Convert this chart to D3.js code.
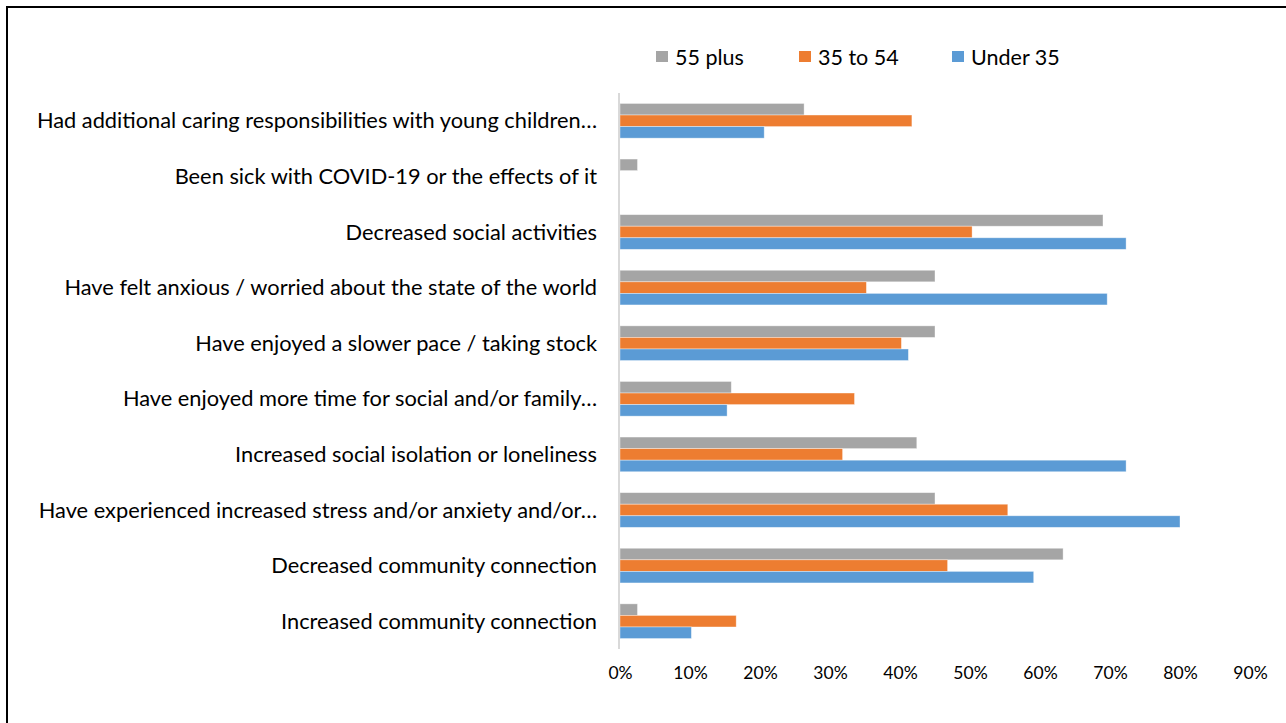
<!DOCTYPE html>
<html>
<head>
<meta charset="utf-8">
<script src="https://cdn.jsdelivr.net/npm/d3@7"></script>
<style>
  body { margin: 0; background: #fff; }
  svg { display: block; font-family: Lato, "Open Sans", sans-serif; }
</style>
</head>
<body>
<svg width="1286" height="723"></svg>
<script>
// Categories, top to bottom
const categories = [
    "Had additional caring responsibilities with young children…",
    "Been sick with COVID-19 or the effects of it",
    "Decreased social activities",
    "Have felt anxious / worried about the state of the world",
    "Have enjoyed a slower pace / taking stock",
    "Have enjoyed more time for social and/or family…",
    "Increased social isolation or loneliness",
    "Have experienced increased stress and/or anxiety and/or…",
    "Decreased community connection",
    "Increased community connection"
];

const seriesNames = ["55 plus", "35 to 54", "Under 35"];
const seriesColors = ["#A5A5A5", "#ED7D31", "#5B9BD5"];

// Values in %, same order as categories
const plus55 = [26.3, 2.5, 69.0, 45.0, 45.0, 15.9, 42.4, 45.0, 63.3, 2.5];
const from35to54 = [41.7, 0, 50.3, 35.2, 40.2, 33.5, 31.8, 55.4, 46.8, 16.6];
const under35 = [20.6, 0, 72.3, 69.6, 41.2, 15.3, 72.3, 80.0, 59.1, 10.2];

const tickValues = [0, 10, 20, 30, 40, 50, 60, 70, 80, 90];

const seriesValues = [plus55, from35to54, under35];

const svg = d3.select("svg");
const margin = { top: 93, left: 620, right: 36, bottom: 74 };
const width = 1286, height = 723;

// outer frame (chart border runs past the picture edge)
svg.append("rect")
    .attr("x", 7).attr("y", 7)
    .attr("width", 1300).attr("height", 740)
    .attr("fill", "none")
    .attr("stroke", "#000")
    .attr("stroke-width", 2);

const x = d3.scaleLinear()
    .domain([0, 90])
    .range([margin.left, width - margin.right]);

const y = d3.scaleBand()
    .domain(categories)
    .range([margin.top, height - margin.bottom])
    .paddingInner(0.376)
    .paddingOuter(0.188);

const ySub = d3.scaleBand()
    .domain(seriesNames)
    .range([0, y.bandwidth()]);

// bars
const groups = svg.append("g")
    .selectAll("g")
    .data(categories)
    .join("g")
    .attr("transform", d => `translate(0,${y(d)})`);

groups.selectAll("rect")
    .data((d, i) => seriesNames.map((s, j) => ({ series: s, value: seriesValues[j][i], color: seriesColors[j] })))
    .join("rect")
    .filter(d => d.value > 0)
    .attr("x", x(0))
    .attr("y", d => ySub(d.series))
    .attr("width", d => x(d.value) - x(0))
    .attr("height", ySub.bandwidth())
    .attr("fill", d => d.color)
    .attr("stroke", "#fff")
    .attr("stroke-opacity", 0.5)
    .attr("stroke-width", 0.75);

// category axis line
svg.append("line")
    .attr("x1", x(0) - 1).attr("x2", x(0) - 1)
    .attr("y1", margin.top).attr("y2", height - margin.bottom)
    .attr("stroke", "#d9d9d9")
    .attr("stroke-width", 2);

// category labels
svg.append("g")
    .selectAll("text")
    .data(categories)
    .join("text")
    .attr("x", 597)
    .attr("y", d => y(d) + y.bandwidth() / 2)
    .attr("dy", "0.35em")
    .attr("text-anchor", "end")
    .attr("font-size", 21.8)
    .attr("fill", "#000")
    .text(d => d);

// value axis labels
const xAxis = d3.axisBottom(x)
    .tickValues(tickValues)
    .tickFormat(d => d + "%")
    .tickSize(0)
    .tickPadding(0);

const xg = svg.append("g")
    .attr("transform", `translate(0,${height - margin.bottom + 18})`)
    .call(xAxis);
xg.select(".domain").remove();
xg.selectAll("text")
    .attr("font-family", "Lato, 'Open Sans', sans-serif")
    .attr("font-size", 17.5)
    .attr("fill", "#000");

// legend
const legendX = [656, 799, 952];
const legend = svg.append("g")
    .selectAll("g")
    .data(seriesNames)
    .join("g")
    .attr("transform", (d, i) => `translate(${legendX[i]},51)`);

legend.append("rect")
    .attr("width", 12).attr("height", 11)
    .attr("fill", (d, i) => seriesColors[i]);

legend.append("text")
    .attr("x", 19)
    .attr("y", 6)
    .attr("dy", "0.35em")
    .attr("font-size", 21.5)
    .attr("fill", "#000")
    .text(d => d);
</script>
</body>
</html>
